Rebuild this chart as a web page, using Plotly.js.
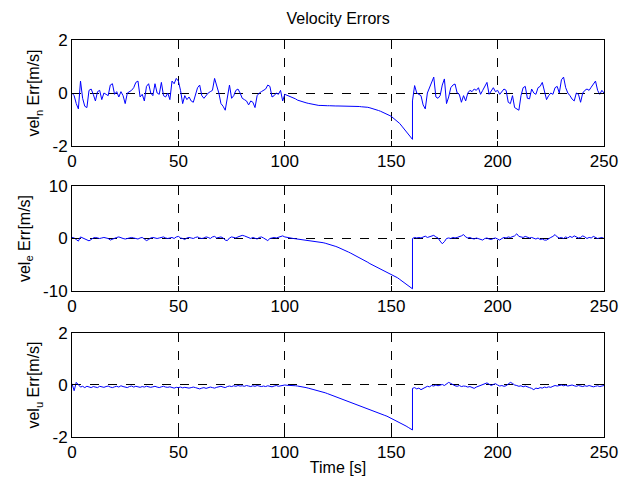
<!DOCTYPE html>
<html>
<head>
<meta charset="utf-8">
<script src="https://cdn.plot.ly/plotly-3.0.1.min.js"></script>
<style>html,body{margin:0;padding:0;background:#fff;}#chart{width:632px;height:480px;}</style>
</head>
<body>
<div id="chart"></div>
<script>
// Time grids (1 s sampling): segment A 0..160 s, segment B 160..250 s
var tStartA = 0, tEndA = 160, tStartB = 160, tEndB = 250;

// North velocity error, segment A (t = 0..160)
var velNA = [
  0.0, -0.1, -0.4, -0.6, 0.45, -0.2, -0.5, -0.55, 0.1, 0.15,
  -0.05, -0.3, 0.05, 0.1, -0.25, 0.0, -0.05, -0.1, 0.3, 0.35,
  -0.05, 0.05, -0.15, 0.05, -0.1, -0.4, 0.0, 0.05, 0.1, 0.2,
  0.4, 0.45, -0.15, -0.05, -0.3, 0.25, 0.35, 0.0, -0.1, 0.35,
  0.0, -0.05, 0.4, -0.1, -0.15, 0.0, -0.25, 0.45, 0.35, 0.55,
  0.45, 0.1, -0.4, -0.1, -0.25, -0.15, -0.3, -0.35, -0.1, 0.2,
  0.3, -0.1, -0.2, -0.1, 0.0, 0.05, 0.1, 0.55, 0.3, 0.0,
  -0.4, -0.5, -0.65, -0.1, 0.3, -0.2, -0.1, 0.1, 0.15, 0.0,
  -0.2, -0.25, -0.3, -0.45, -0.3, -0.35, -0.55, -0.1, 0.0, 0.05,
  0.1, 0.15, 0.3, 0.25, -0.15, -0.1, 0.0, -0.05, 0.1, -0.3,
  -0.05,
  -0.08, -0.12, -0.15, -0.18, -0.22, -0.27, -0.3, -0.33, -0.35, -0.37,
  -0.39, -0.41, -0.43, -0.45, -0.46, -0.47, -0.47, -0.48, -0.48, -0.48,
  -0.48, -0.49, -0.49, -0.49, -0.49, -0.49, -0.5, -0.5, -0.5, -0.5,
  -0.5, -0.5, -0.51, -0.51, -0.51, -0.52, -0.52, -0.53, -0.54, -0.56,
  -0.58, -0.6, -0.63, -0.66, -0.69, -0.72, -0.76, -0.8, -0.84, -0.88,
  -0.94, -1.0, -1.07, -1.15, -1.25, -1.35, -1.45, -1.55, -1.65, -1.75
];
// North, segment B (t = 160..250)
var velNB = [
  -0.3, 0.28, 0.0, -0.05, -0.1, -0.45, -0.6, 0.0, 0.2, 0.47,
  0.6, -0.15, -0.2, -0.1, 0.3, 0.53, -0.4, -0.15, 0.2, 0.3,
  0.34, 0.0, -0.05, -0.35, -0.1, -0.3, 0.0, 0.1, 0.05, 0.15,
  0.1, 0.2, -0.05, 0.1, 0.28, 0.4, -0.05, 0.1, 0.2, 0.05,
  0.1, -0.05, 0.05, 0.15, 0.1, -0.35, -0.4, -0.1, -0.55, -0.6,
  -0.65, -0.1, 0.2, 0.25, -0.2, -0.22, 0.15, 0.0, -0.05, 0.2,
  0.25, 0.4, 0.05, -0.25, -0.1, 0.0, -0.05, 0.2, 0.25, 0.0,
  0.5, 0.6, 0.2, 0.0, -0.1, -0.23, -0.3, 0.0, -0.05, -0.35,
  0.0, 0.1, 0.15, 0.1, 0.22, 0.34, 0.45, 0.1, -0.05, 0.1,
  0.0
];
// East velocity error
var velEA = [
  0.2, 0.1, -0.2, -0.5, 0.3, 0.1, 0.0, -0.2, -0.45, -0.2,
  0.1, 0.2, 0.1, 0.0, 0.1, 0.2, 0.1, 0.0, -0.3, -0.1,
  0.1, 0.2, 0.3, 0.1, 0.0, -0.1, 0.0, 0.1, 0.2, 0.1,
  0.0, -0.1, 0.1, 0.2, -0.1, -0.4, -0.2, 0.1, 0.2, 0.1,
  0.0, 0.1, 0.2, 0.3, 0.1, 0.0, 0.1, 0.2, 0.0, 0.3,
  0.4, 0.1, 0.0, -0.2, 0.1, 0.2, 0.1, 0.0, 0.2, 0.3,
  0.1, 0.0, 0.1, 0.3, 0.2, 0.0, 0.3, 0.4, 0.1, 0.2,
  0.3, 0.1, -0.3, -0.4, 0.1, 0.3, 0.2, 0.1, 0.3, 0.4,
  0.6, 0.5, 0.3, 0.1, 0.0, 0.2, 0.1, -0.1, 0.2, 0.3,
  0.1, -0.2, -0.4, 0.0, 0.1, 0.2, 0.1, 0.2, 0.3, 0.5,
  0.3,
  0.2, 0.1, 0.05, 0.0, -0.05, -0.1, -0.15, -0.2, -0.25, -0.3,
  -0.35, -0.4, -0.45, -0.5, -0.55, -0.6, -0.7, -0.8, -0.9, -1.0,
  -1.12, -1.25, -1.38, -1.52, -1.68, -1.84, -2.0, -2.18, -2.38, -2.6,
  -2.8, -3.0, -3.2, -3.4, -3.6, -3.83, -4.06, -4.3, -4.54, -4.8,
  -5.0, -5.2, -5.35, -5.55, -5.75, -5.95, -6.15, -6.35, -6.55, -6.75,
  -7.0, -7.25, -7.5, -7.8, -8.1, -8.4, -8.7, -9.0, -9.3, -9.6
];
var velEB = [
  0.0, 0.2, 0.1, 0.2, 0.1, 0.3, 0.45, 0.2, 0.3, 0.5,
  0.6, 0.3, 0.1, -0.5, -1.0, -0.6, 0.0, 0.1, 0.0, 0.2,
  0.1, 0.2, 0.3, 0.5, 0.75, 0.3, 0.1, 0.2, 0.0, -0.1,
  0.1, 0.0, -0.2, -0.3, 0.0, 0.1, -0.1, -0.2, 0.0, 0.1,
  -0.1, -0.3, 0.0, 0.2, 0.1, 0.3, 0.2, 0.4, 0.5, 0.9,
  0.4, 0.3, 0.2, 0.4, 0.3, 0.1, 0.2, 0.0, -0.1, 0.1,
  -0.2, -0.1, -0.3, -0.3, 0.0, 0.2, 0.4, 0.75, 0.3, 0.1,
  0.2, 0.0, 0.3, 0.1, 0.4, 0.2, 0.5, 0.3, 0.1, 0.2,
  0.5, 0.3, 0.0, 0.2, 0.1, 0.4, 0.2, 0.0, 0.1, 0.2,
  0.0
];
// Up velocity error
var velUA = [
  0.05, -0.22, 0.1, 0.0, -0.08, -0.05, -0.1, -0.05, -0.08, -0.1,
  -0.06, -0.08, -0.1, -0.05, -0.07, -0.09, -0.06, -0.04, -0.08, -0.1,
  -0.07, -0.05, -0.08, -0.03, -0.06, -0.08, -0.1, -0.06, -0.04, -0.08,
  -0.05, -0.07, -0.09, -0.06, -0.08, -0.05, -0.07, -0.09, -0.07, -0.05,
  -0.08, -0.1, -0.07, -0.05, -0.08, -0.09, -0.07, -0.1, -0.12, -0.09,
  -0.1, -0.08, -0.11, -0.09, -0.1, -0.12, -0.1, -0.08, -0.1, -0.13,
  -0.15, -0.12, -0.1, -0.13, -0.11, -0.08, -0.1, -0.12, -0.09, -0.07,
  -0.05, -0.08, -0.1, -0.06, -0.04, -0.06, -0.03, -0.05, -0.02, -0.04,
  -0.03, -0.05, -0.02, -0.04, -0.06, -0.03, -0.05, -0.02, -0.04, -0.06,
  -0.04, -0.06, -0.03, -0.05, -0.07, -0.04, -0.02, -0.05, -0.03, 0.0,
  0.0,
  -0.01, -0.01, -0.02, -0.02, -0.03, -0.04, -0.05, -0.07, -0.08, -0.1,
  -0.12, -0.14, -0.16, -0.18, -0.2, -0.22, -0.25, -0.28, -0.3, -0.33,
  -0.36, -0.39, -0.43, -0.46, -0.5, -0.53, -0.56, -0.59, -0.62, -0.65,
  -0.68, -0.71, -0.74, -0.77, -0.8, -0.83, -0.86, -0.89, -0.92, -0.95,
  -0.98, -1.01, -1.04, -1.07, -1.1, -1.13, -1.17, -1.2, -1.24, -1.27,
  -1.31, -1.35, -1.39, -1.43, -1.48, -1.53, -1.58, -1.63, -1.68, -1.73
];
var velUB = [
  -0.13, -0.1, -0.15, -0.12, -0.18, -0.14, -0.1, -0.05, -0.07, -0.02,
  -0.04, 0.0, -0.03, -0.01, 0.02, -0.02, 0.05, 0.1, 0.06, 0.0,
  -0.03, -0.05, -0.02, -0.06, -0.04, -0.05, -0.08, -0.06, -0.1, -0.13,
  -0.08, -0.05, -0.02, 0.0, 0.04, 0.08, 0.03, -0.02, 0.02, 0.05,
  0.0, -0.04, -0.02, -0.05, -0.03, 0.02, 0.1, 0.06, 0.0, -0.02,
  -0.05, -0.03, -0.07, -0.04, -0.06, -0.1, -0.13, -0.18, -0.12, -0.14,
  -0.1, -0.12, -0.08, -0.1, -0.07, -0.09, -0.05, -0.02, -0.04, -0.01,
  0.0, -0.03, -0.01, -0.04, -0.02, 0.0, -0.03, -0.05, -0.02, -0.04,
  -0.06, -0.03, -0.05, -0.02, -0.04, -0.07, -0.05, -0.03, -0.06, -0.04,
  -0.02
];

var xTicks = [0, 50, 100, 150, 200, 250];
var yTicksN = [-2, 0, 2], yTicksE = [-10, 0, 10], yTicksU = [-2, 0, 2];
var yLabels = ['vel<sub>n</sub> Err[m/s]', 'vel<sub>e</sub> Err[m/s]', 'vel<sub>u</sub> Err[m/s]'];
var chartTitle = 'Velocity Errors';
var xLabel = 'Time [s]';

function grid(a, b) { var r = []; for (var t = a; t <= b; t++) r.push(t); return r; }
var timeAll = grid(tStartA, tEndA).concat(grid(tStartB, tEndB));

var FONT = {family: 'Arial, "Liberation Sans", sans-serif', size: 17, color: '#000'};
var TFONT = {family: 'Arial, "Liberation Sans", sans-serif', size: 16, color: '#000'};
var lineStyle = {color: '#0000ff', width: 1};

var traces = [
  {x: timeAll, y: velNA.concat(velNB), xaxis: 'x', yaxis: 'y', type: 'scatter', mode: 'lines', line: lineStyle, hoverinfo: 'skip'},
  {x: timeAll, y: velEA.concat(velEB), xaxis: 'x2', yaxis: 'y2', type: 'scatter', mode: 'lines', line: lineStyle, hoverinfo: 'skip'},
  {x: timeAll, y: velUA.concat(velUB), xaxis: 'x3', yaxis: 'y3', type: 'scatter', mode: 'lines', line: lineStyle, hoverinfo: 'skip'}
];

function xAxis(anchor, title) {
  var a = {
    anchor: anchor, domain: [0, 1], range: [0, 250], tickvals: xTicks, ticktext: xTicks.map(String),
    ticks: 'inside', ticklen: 5, tickcolor: '#000', showline: true, mirror: 'ticks', linecolor: '#000', linewidth: 1,
    showgrid: true, gridcolor: '#000', griddash: 'dash', gridwidth: 1, zeroline: false,
    tickfont: FONT, fixedrange: true
  };
  if (title) a.title = {text: title, font: TFONT, standoff: 0};
  return a;
}
function yAxis(anchor, dom, rng, tv, title) {
  return {
    anchor: anchor, domain: dom, range: rng, tickvals: tv, ticktext: tv.map(String),
    ticks: 'inside', ticklen: 5, tickcolor: '#000', showline: true, mirror: 'ticks', linecolor: '#000', linewidth: 1,
    showgrid: true, gridcolor: '#000', griddash: 'dash', gridwidth: 1, zeroline: false,
    tickfont: FONT, fixedrange: true, title: {text: title, font: TFONT, standoff: 8}
  };
}

var layout = {
  width: 632, height: 480,
  margin: {l: 72, r: 28, t: 40, b: 43},
  paper_bgcolor: '#fff', plot_bgcolor: '#fff',
  showlegend: false,
  font: FONT,
  title: {text: chartTitle, font: TFONT, x: 0.535, xanchor: 'center', y: 0.962, yanchor: 'middle'},
  xaxis: xAxis('y', null),
  yaxis: yAxis('x', [0.733, 1], [-2, 2], yTicksN, yLabels[0]),
  xaxis2: xAxis('y2', null),
  yaxis2: yAxis('x2', [0.368, 0.632], [-10, 10], yTicksE, yLabels[1]),
  xaxis3: xAxis('y3', xLabel),
  yaxis3: yAxis('x3', [0, 0.262], [-2, 2], yTicksU, yLabels[2])
};

Plotly.newPlot('chart', traces, layout, {staticPlot: true, displayModeBar: false});
</script>
</body>
</html>
